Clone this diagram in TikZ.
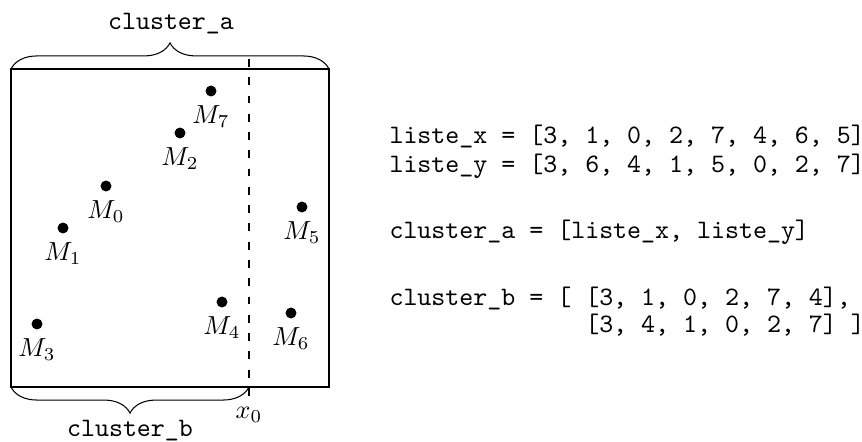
\documentclass[tikz,border=0pt]{standalone}
\usepackage{fontspec}
\usetikzlibrary{decorations.pathreplacing}
\tikzset{
  pt/.style={circle,fill=black,inner sep=0pt,minimum size=4.2pt},
  lab/.style={anchor=north,inner sep=0pt},
  code/.style={anchor=base west,inner sep=0pt,font=\ttfamily\fontsize{10.2pt}{12pt}\selectfont},
  bracelab/.style={inner sep=0pt,font=\ttfamily\fontsize{10.2pt}{12pt}\selectfont},
  curly/.style={decorate,decoration={brace,amplitude=10pt}},
  cut/.style={dash pattern=on 3pt off 4pt}
}
\begin{document}
\begin{tikzpicture}[x=0.383pt,y=-0.383pt]
\useasboundingbox (0,0) rectangle (862,442);
\coordinate (tl) at (11,69);
\coordinate (tr) at (329,69);
\coordinate (bl) at (11,387);
\coordinate (br) at (329,387);
\coordinate (bm) at (249,387);
\draw (tl) rectangle (br);
\coordinate (dtop) at (249,59);
\coordinate (dbot) at (249,400);
\draw[cut] (dtop) -- (dbot);
\node[inner sep=0pt] (x0) at (249,415) {$x_0$};
\draw[curly] (tl) -- (tr);
\draw[curly] (bm) -- (bl);
\node[bracelab] (ca) at (171,24) {cluster\_a};
\node[bracelab] (cb) at (130,431) {cluster\_b};
% points
\node[pt] (m7) at (211,91) {};
\node[pt] (m2) at (180,133) {};
\node[pt] (m0) at (106,186) {};
\node[pt] (m1) at (63,228) {};
\node[pt] (m5) at (302,207) {};
\node[pt] (m4) at (222,302) {};
\node[pt] (m6) at (291,313) {};
\node[pt] (m3) at (37,324) {};
\node[lab] (l7) at ([yshift=-3.3pt]m7.south) {$M_7$};
\node[lab] (l2) at ([yshift=-3.3pt]m2.south) {$M_2$};
\node[lab] (l0) at ([yshift=-3.3pt]m0.south) {$M_0$};
\node[lab] (l1) at ([yshift=-3.3pt]m1.south) {$M_1$};
\node[lab] (l5) at ([yshift=-3.3pt]m5.south) {$M_5$};
\node[lab] (l4) at ([yshift=-3.3pt]m4.south) {$M_4$};
\node[lab] (l6) at ([yshift=-3.3pt]m6.south) {$M_6$};
\node[lab] (l3) at ([yshift=-3.3pt]m3.south) {$M_3$};
% code
\node[code] (c1) at (389,144) {liste\_x = [3, 1, 0, 2, 7, 4, 6, 5]};
\node[code] (c2) at (389,173) {liste\_y = [3, 6, 4, 1, 5, 0, 2, 7]};
\node[code] (c3) at (389,239) {cluster\_a = [liste\_x, liste\_y]};
\node[code] (c4) at (389,306) {cluster\_b = [ [3, 1, 0, 2, 7, 4],};
\node[code] (c5) at (389,333) {\hphantom{cluster\_b = [ }[3, 4, 1, 0, 2, 7] ]};
\end{tikzpicture}
\end{document}
